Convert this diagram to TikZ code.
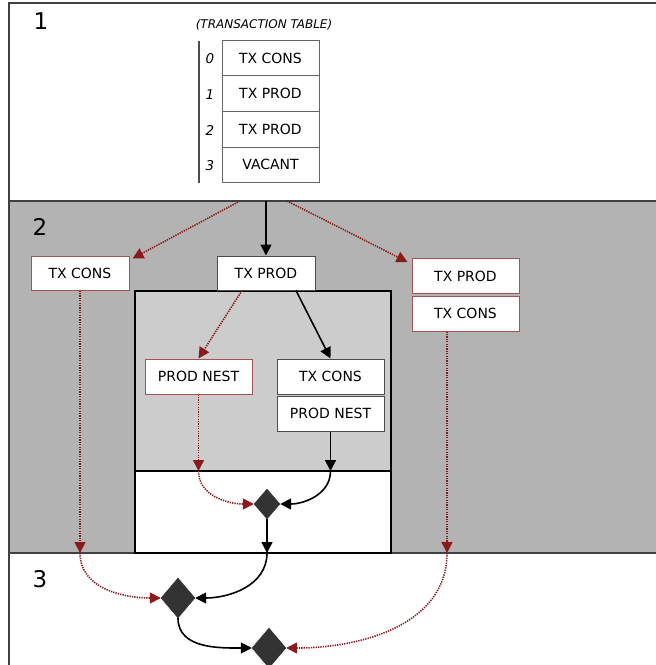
\documentclass[tikz,border=0pt]{standalone}
\usepackage{fontspec}
\setmainfont{DejaVu Sans}
\usetikzlibrary{arrows.meta,shapes.geometric}
\definecolor{bandgray}{HTML}{B3B3B3}
\definecolor{innergray}{HTML}{CCCCCC}
\definecolor{linkred}{HTML}{8B1A1A}
\definecolor{boxred}{HTML}{A05555}
\definecolor{framecol}{HTML}{404040}
\definecolor{knotcol}{HTML}{333333}
\begin{document}
\begin{tikzpicture}[x=1pt,y=-1pt,
  boxtext/.style={font=\fontsize{14}{16}\selectfont},
  cell/.style={boxtext, draw=black!60, line width=0.9pt, fill=white,
    minimum width=97pt, minimum height=35.6pt, inner sep=0pt},
  redbox/.style={boxtext, draw=boxred, line width=1pt, fill=white,
    minimum width=98pt, minimum height=34pt, inner sep=0pt},
  blackbox/.style={boxtext, draw=black!70, line width=1pt, fill=white,
    minimum width=98pt, minimum height=34pt, inner sep=0pt},
  widebox/.style={minimum width=107pt, minimum height=35pt},
  solidlink/.style={draw=black, line width=1.6pt, -{Triangle[length=11pt,width=11pt]}},
  dotlink/.style={draw=linkred, line width=1.6pt, dash pattern=on 1.3pt off 1.1pt,
    -{Triangle[length=11pt,width=11pt]}},
  knotnode/.style={diamond, fill=knotcol, draw=knotcol, inner sep=0pt},
  bandlabel/.style={font=\fontsize{23}{26}\selectfont, anchor=center},
  idx/.style={font=\itshape\fontsize{13.5}{15}\selectfont}
]
\clip (0,0) rectangle (656,665);
\fill[white] (0,0) rectangle (656,665);

% bands
\fill[bandgray] (9,201) rectangle (670,553);
\draw[framecol, line width=1.2pt] (9,201) -- (670,201);
\draw[framecol, line width=1.2pt] (9,553) -- (670,553);
\draw[framecol, line width=1.6pt] (9,690) -- (9,3) -- (670,3);

\node[bandlabel] (n1) at (41,21) {1};
\node[bandlabel] (n2) at (40,227) {2};
\node[bandlabel] (n3) at (40,579) {3};

% transaction table
\node[font=\itshape\fontsize{12}{14}\selectfont] (title) at (264,25) {(TRANSACTION TABLE)};
\draw[black!70, line width=1.2pt] (199,41) -- (199,183);
\node[cell] (r0) at (270.5,58) {TX CONS};
\node[cell] (r1) at (270.5,93.6) {TX PROD};
\node[cell] (r2) at (270.5,129.2) {TX PROD};
\node[cell] (r3) at (270.5,164.8) {VACANT};
\node[idx] (i0) at (210,59) {0};
\node[idx] (i1) at (210,94.6) {1};
\node[idx] (i2) at (210,130.2) {2};
\node[idx] (i3) at (210,165.8) {3};

% nested region
\fill[innergray] (135,291) rectangle (391,471);
\fill[white] (135,471) rectangle (391,553);
\draw[black, line width=1.1pt] (135,471) -- (391,471);
\draw[black, line width=1.4pt] (135,291) rectangle (391,553);

% band 2 boxes
\node[redbox] (lcons) at (80,273) {TX CONS};
\node[blackbox] (mprod) at (266,273) {TX PROD};
\node[redbox, widebox] (rprod) at (465.5,276) {TX PROD};
\node[redbox, widebox] (rcons) at (465.5,313.5) {TX CONS};
\node[redbox, widebox] (pnestl) at (198.5,376.5) {PROD NEST};
\node[blackbox, widebox] (icons) at (330.5,376.5) {TX CONS};
\node[blackbox, widebox] (pnestr) at (330.5,413.5) {PROD NEST};

% joins
\node[knotnode, minimum width=26pt, minimum height=30pt] (k0) at (267,504) {};
\node[knotnode, minimum width=34pt, minimum height=40pt] (k1) at (178,598) {};
\node[knotnode, minimum width=34pt, minimum height=40pt] (k2) at (269,648) {};

% connector ends on band edges
\coordinate (t1) at (240,201);
\coordinate (t2) at (266,201);
\coordinate (t3) at (287,201);
\coordinate (a1) at (198.5,471);
\coordinate (a2) at (330.5,471);
\coordinate (b1) at (80,553);
\coordinate (b2) at (267,553);
\coordinate (b3) at (447,553);

% band 1 to band 2
\draw[solidlink] (t2) -- (mprod.north);
\draw[dotlink] (t1) -- ([xshift=3pt,yshift=-3pt]lcons.north east);
\draw[dotlink] (t3) -- ([xshift=-4pt,yshift=-4pt]rprod.north west);

% inside the nested region
\draw[dotlink] ([xshift=-24pt]mprod.south) -- (pnestl.north);
\draw[solidlink] ([xshift=30pt]mprod.south) -- (icons.north);
\draw[dotlink] (pnestl.south) -- (a1);
\draw[solidlink] (pnestr.south) -- (a2);
\draw[dotlink] (a1) to[out=-90,in=180] (k0.west);
\draw[solidlink] (a2) to[out=-90,in=0] (k0.east);
\draw[solidlink] (k0.south) -- (b2);

% side branches
\draw[dotlink] (lcons.south) -- (b1);
\draw[dotlink] ([xshift=-18.5pt]rcons.south) -- (b3);

% band 3
\draw[dotlink] (b1) to[out=-90,in=180] (k1.west);
\draw[solidlink] (b2) to[out=-90,in=0] (k1.east);
\draw[solidlink] (k1.south) to[out=-90,in=180] (k2.west);
\draw[dotlink] (b3) to[out=-90,in=0] (k2.east);
\end{tikzpicture}
\end{document}
